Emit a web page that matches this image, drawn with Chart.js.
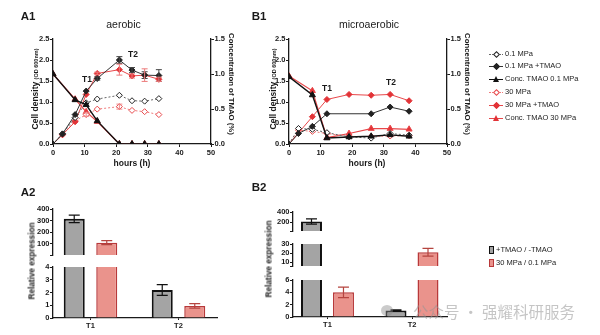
<!DOCTYPE html>
<html>
<head>
<meta charset="utf-8">
<script src="https://cdn.jsdelivr.net/npm/chart.js@4.4.1/dist/chart.umd.min.js"></script>
<style>
  body { margin: 0; background: #fff; }
  #fig { position: relative; width: 600px; height: 335px; overflow: hidden; font-family: "Liberation Sans", Arial, sans-serif; color: #1a1a1a; }
  #fig canvas { position: absolute; }
  .lbl { position: absolute; white-space: nowrap; line-height: 1; }
  .leg { position: absolute; font-size: 7.5px; line-height: 1; white-space: nowrap; color: #222; }
</style>
</head>
<body>
<div id="fig">
  <canvas id="a1" width="240" height="160" style="left:0;top:0"></canvas>
  <canvas id="b1" width="240" height="160" style="left:236px;top:0"></canvas>
  <canvas id="a2top" width="225" height="60" style="left:0;top:200px"></canvas>
  <canvas id="a2bot" width="225" height="77" style="left:0;top:258px"></canvas>
  <canvas id="b2top" width="215" height="33" style="left:236px;top:203px"></canvas>
  <canvas id="b2mid" width="215" height="36" style="left:236px;top:235px"></canvas>
  <canvas id="b2bot" width="215" height="63" style="left:236px;top:271px"></canvas>
</div>
<script>
// ---- A1 aerobic (hours, OD600 and TMAO %) ----
const hoursA = [0, 3, 7, 10.5, 14, 21, 25, 29, 33.5];
const a1Open01 = [0, 0.24, 0.63, 0.98, 1.07, 1.16, 1.03, 1.02, 1.08];
const a1Tmao01 = [0, 0.24, 0.70, 1.26, 1.56, 2.0, 1.76, 1.64, 1.63];
const a1Tmao01Err = [0, 0, 0, 0, 0.04, 0.08, 0.06, 0.08, 0.14];
const a1Conc01 = [1.0, null, 0.63, 0.56, 0.33, 0, 0, 0, 0];
const a1Open30 = [0, 0.22, 0.55, 0.70, 0.83, 0.89, 0.80, 0.77, 0.70];
const a1Open30Err = [0, 0, 0, 0.04, 0, 0.06, 0, 0, 0];
const a1Tmao30 = [0, 0.22, 0.53, 1.18, 1.68, 1.77, 1.62, 1.64, 1.54];
const a1Tmao30Err = [0, 0, 0, 0, 0.03, 0.13, 0.05, 0.15, 0.05];
const a1Conc30 = [1.0, null, 0.64, 0.46, 0.32, 0, 0, 0, 0];

// ---- B1 microaerobic ----
const hoursB = [0, 3, 7.4, 12, 19, 26, 32, 38];
const b1Open01 = [0, 0.37, 0.35, 0.27, 0.17, 0.14, 0.25, 0.21];
const b1Tmao01 = [0, 0.25, 0.42, 0.72, null, 0.72, 0.88, 0.78];
const b1Conc01 = [0.96, null, 0.70, 0.085, 0.10, 0.11, 0.13, 0.11];
const b1Open30 = [0, 0.33, 0.30, 0.25, 0.18, 0.18, 0.19, 0.20];
const b1Tmao30 = [0, null, 0.65, 1.06, 1.18, 1.16, 1.18, 1.03];
const b1Conc30 = [0.97, null, 0.76, 0.09, 0.15, 0.22, 0.22, 0.21];

const hourTicks = [0, 10, 20, 30, 40, 50];
const odTicks = [0, 0.5, 1, 1.5, 2, 2.5];
const concTicks = [0, 0.5, 1, 1.5];

// ---- A2 / B2 relative expression ----
const categories = ['T1', 'T2'];
const a2Tmao = [315, 2.2];
const a2TmaoErr = [32, 0.42];
const a2Press = [110, 0.95];
const a2PressErr = [17, 0.18];
const b2Tmao = [215, 1.05];
const b2TmaoErr = [50, 0.1];
const b2Press = [4.0, 21];
const b2PressErr = [0.85, 4.3];

const a2Breaks = [0, 4, 400];
const a2TopTicks = [100, 200, 300, 400];
const a2BotTicks = [0, 1, 2, 3, 4];
const b2Breaks = [0, 6, 30, 400];
const b2TopTicks = [200, 400];
const b2MidTicks = [10, 20, 30];
const b2BotTicks = [0, 2, 4, 6];

Chart.defaults.font.family = '"Liberation Sans", Arial, sans-serif';
Chart.defaults.font.size = 7.5;
Chart.defaults.font.weight = 'bold';
Chart.defaults.color = '#1a1a1a';
Chart.defaults.animation = false;
Chart.defaults.plugins.legend.display = false;
Chart.defaults.plugins.tooltip.enabled = false;

// vertical error bars, drawn from each dataset's err array
function drawErrors(chart) {
  const {ctx} = chart;
  chart.data.datasets.forEach((ds, i) => {
    if (!ds.err) return;
    const meta = chart.getDatasetMeta(i);
    const ys = chart.scales[meta.yAxisID];
    meta.data.forEach((el, j) => {
      const e = ds.err[j];
      const v = ds.data[j].y;
      if (!e || v == null || v < ys.min || v > ys.max) return;
      const top = ys.getPixelForValue(v + e), bot = ys.getPixelForValue(v - e);
      const w = ds.capWidth || 3;
      ctx.strokeStyle = ds.errColor || '#222';
      ctx.lineWidth = ds.errWidth || 1;
      ctx.beginPath();
      ctx.moveTo(el.x, top); ctx.lineTo(el.x, bot);
      ctx.moveTo(el.x - w, top); ctx.lineTo(el.x + w, top);
      ctx.moveTo(el.x - w, bot); ctx.lineTo(el.x + w, bot);
      ctx.stroke();
    });
  });
}
const errorBars = {
  id: 'errorBars',
  afterDatasetsDraw(chart) { chart.ctx.save(); drawErrors(chart); chart.ctx.restore(); }
};
// broken-axis segments: bars and their error bars stay inside the plot area
const segmentClip = {
  id: 'segmentClip',
  beforeDatasetsDraw(chart) {
    const {ctx, chartArea: a} = chart;
    ctx.save();
    ctx.beginPath();
    ctx.rect(a.left, a.top, a.right - a.left, a.bottom - a.top);
    ctx.clip();
  },
  afterDatasetsDraw(chart) { drawErrors(chart); chart.ctx.restore(); }
};

const fixedTicks = vals => s => { s.ticks = vals.map(v => ({value: v})); };
function axisStyle(extra) {
  return Object.assign({
    grid: {drawOnChartArea: false, color: '#1a1a1a', tickLength: 3, lineWidth: 1},
    border: {color: '#1a1a1a', width: 1.3}
  }, extra);
}

const styles = {
  conc01: {label: 'Conc. TMAO 0.1 MPa', yAxisID: 'y1', borderColor: '#111', backgroundColor: '#111', pointStyle: 'triangle', pointRadius: 3.5, borderWidth: 1.4},
  tmao01: {label: '0.1 MPa +TMAO', borderColor: '#333', backgroundColor: '#222', pointBorderColor: '#222', pointStyle: 'rectRot', pointRadius: 3, borderWidth: 1, errColor: '#444'},
  open01: {label: '0.1 MPa', borderColor: '#666', backgroundColor: '#fff', pointBorderColor: '#222', pointStyle: 'rectRot', pointRadius: 3, borderWidth: 1, borderDash: [2, 2]},
  tmao30: {label: '30 MPa +TMAO', borderColor: '#e8474a', backgroundColor: '#e23337', pointBorderColor: '#e23337', pointStyle: 'rectRot', pointRadius: 3, borderWidth: 1, errColor: '#ec7a7a'},
  open30: {label: '30 MPa', borderColor: '#ef7b7b', backgroundColor: '#fff', pointBorderColor: '#e8484b', pointStyle: 'rectRot', pointRadius: 3, borderWidth: 1, borderDash: [2, 2], errColor: '#ef8a8a'},
  conc30: {label: 'Conc. TMAO 30 MPa', yAxisID: 'y1', borderColor: '#e8474a', backgroundColor: '#e23337', pointStyle: 'triangle', pointRadius: 3.5, borderWidth: 1.2}
};
const legendOrder = ['open01', 'tmao01', 'conc01', 'open30', 'tmao30', 'conc30'];

function lineChart(id, hours, d) {
  const ds = (key, vals, err) => Object.assign({
    data: hours.map((h, i) => ({x: h, y: vals[i]})),
    err: err, spanGaps: true, pointBorderWidth: 1, yAxisID: 'y'
  }, styles[key]);
  return new Chart(document.getElementById(id), {
    type: 'line',
    data: {datasets: [
      ds('conc01', d.conc01), ds('tmao01', d.tmao01, d.tmao01Err), ds('open01', d.open01),
      ds('tmao30', d.tmao30, d.tmao30Err), ds('open30', d.open30, d.open30Err), ds('conc30', d.conc30)
    ]},
    options: {
      responsive: false,
      layout: {autoPadding: false, padding: {top: 39, left: 0, right: 0, bottom: 0}},
      scales: {
        x: axisStyle({type: 'linear', min: 0, max: 50, afterBuildTicks: fixedTicks(hourTicks),
          afterFit: s => { s.height = 16; }, ticks: {padding: 1, maxRotation: 0, autoSkip: false}}),
        y: axisStyle({min: 0, max: 2.5, afterBuildTicks: fixedTicks(odTicks),
          afterFit: s => { s.width = 53; }, ticks: {padding: 0.5, autoSkip: false, callback: v => v.toFixed(1)}}),
        y1: axisStyle({position: 'right', min: 0, max: 1.5, afterBuildTicks: fixedTicks(concTicks),
          afterFit: s => { s.width = 29; }, ticks: {padding: 0.5, autoSkip: false, callback: v => v.toFixed(1)}})
      }
    },
    plugins: [errorBars]
  });
}

lineChart('a1', hoursA, {open01: a1Open01, tmao01: a1Tmao01, tmao01Err: a1Tmao01Err, conc01: a1Conc01,
  open30: a1Open30, open30Err: a1Open30Err, tmao30: a1Tmao30, tmao30Err: a1Tmao30Err, conc30: a1Conc30});
lineChart('b1', hoursB, {open01: b1Open01, tmao01: b1Tmao01, conc01: b1Conc01,
  open30: b1Open30, tmao30: b1Tmao30, conc30: b1Conc30});

const grayBar = {backgroundColor: '#a4a4a4', borderColor: '#111', borderWidth: 2, errColor: '#111', capWidth: 5.5, errWidth: 1.2};
const redBar = {backgroundColor: '#ea938c', borderColor: '#b8393a', borderWidth: 1.5, errColor: '#b5443f', capWidth: 5.5, errWidth: 1.2};

function barSegment(id, lo, hi, tickVals, withX, xr, pct, yW, padR, sets) {
  return new Chart(document.getElementById(id), {
    type: 'bar',
    data: {datasets: sets.map(s => Object.assign({
      data: s.vals.map((v, i) => ({x: i + 1, y: v})), err: s.err, clip: false,
      categoryPercentage: pct[0], barPercentage: pct[1], borderSkipped: 'start'
    }, s.style))},
    options: {
      responsive: false,
      layout: {autoPadding: false, padding: {top: 9, right: padR, left: 0, bottom: 0}},
      scales: {
        x: axisStyle({type: 'linear', display: withX, offset: false, min: xr[0], max: xr[1],
          afterBuildTicks: fixedTicks(categories.map((c, i) => i + 1)),
          afterFit: s => { if (withX) s.height = 17; },
          grid: {drawOnChartArea: false, offset: false, tickLength: 2, color: '#1a1a1a'},
          ticks: {padding: 1, autoSkip: false, callback: v => categories[v - 1] || ''}}),
        y: axisStyle({min: lo, max: hi, beginAtZero: false,
          afterBuildTicks: s => { s.ticks = (lo > 0 ? [lo] : []).concat(tickVals).map(v => ({value: v})); },
          afterFit: s => { s.width = yW; },
          ticks: {padding: 0.5, autoSkip: false, callback: v => tickVals.includes(v) ? v : ''}})
      }
    },
    plugins: [segmentClip]
  });
}

const a2Sets = [{vals: a2Tmao, err: a2TmaoErr, style: grayBar}, {vals: a2Press, err: a2PressErr, style: redBar}];
const b2Sets = [{vals: b2Tmao, err: b2TmaoErr, style: grayBar}, {vals: b2Press, err: b2PressErr, style: redBar}];
const a2X = [0.574, 2.4375], a2Pct = [0.739, 0.646];
const b2X = [0.592, 2.414], b2Pct = [0.757, 0.656];
barSegment('a2top', a2Breaks[1], a2Breaks[2], a2TopTicks, false, a2X, a2Pct, 53, 8, a2Sets);
barSegment('a2bot', a2Breaks[0], a2Breaks[1], a2BotTicks, true, a2X, a2Pct, 53, 8, a2Sets);
barSegment('b2top', b2Breaks[2], b2Breaks[3], b2TopTicks, false, b2X, b2Pct, 57, 4, b2Sets);
barSegment('b2mid', b2Breaks[1], b2Breaks[2], b2MidTicks, false, b2X, b2Pct, 57, 4, b2Sets);
barSegment('b2bot', b2Breaks[0], b2Breaks[1], b2BotTicks, true, b2X, b2Pct, 57, 4, b2Sets);

// ---- text ----
const fig = document.getElementById('fig');
function put(html, x, y, font, rot) {
  const el = document.createElement('div');
  el.className = 'lbl';
  el.innerHTML = html;
  el.style.left = x + 'px';
  el.style.top = y + 'px';
  el.style.font = font;
  el.style.transform = 'translate(-50%, -50%)' + (rot ? ' rotate(' + rot + 'deg)' : '');
  fig.appendChild(el);
  return el;
}
const F = '"Liberation Sans", Arial, sans-serif';
put('A1', 28, 16, 'bold 11.5px ' + F);
put('B1', 259, 16, 'bold 11.5px ' + F);
put('aerobic', 123.5, 24, '10.5px ' + F);
put('microaerobic', 369, 24, '10.5px ' + F);
put('hours (h)', 132, 163, 'bold 8.5px ' + F);
put('hours (h)', 367, 163, 'bold 8.5px ' + F);
const cellTitle = 'Cell density <span style="font-size:5.5px">(OD 600nm)</span>';
put(cellTitle, 35, 89, 'bold 8.5px ' + F, -90);
put(cellTitle, 273, 89, 'bold 8.5px ' + F, -90);
put('Concentration of TMAO (%)', 231, 84, 'bold 7.8px ' + F, 90);
put('Concentration of TMAO (%)', 467, 84, 'bold 7.8px ' + F, 90);
put('T1', 87, 79, 'bold 8.5px ' + F);
put('T2', 133, 54, 'bold 8.5px ' + F);
put('T1', 327, 88, 'bold 8.5px ' + F);
put('T2', 391, 82, 'bold 8.5px ' + F);
put('A2', 28, 192, 'bold 11.5px ' + F);
put('B2', 259, 187, 'bold 11.5px ' + F);
put('Relative expression', 32, 261, 'bold 8.2px ' + F, -90);
put('Relative expression', 269, 259, 'bold 8.2px ' + F, -90);

// line legend built from the dataset styles
const legRows = [54, 66, 79, 92, 105, 118];
legendOrder.forEach((key, i) => {
  const s = styles[key];
  const row = document.createElement('div');
  row.className = 'leg';
  row.style.left = '489px';
  row.style.top = (legRows[i] - 4) + 'px';
  let mark;
  if (s.pointStyle === 'triangle') {
    mark = '<span style="position:absolute;left:3.5px;top:0.5px;width:0;height:0;border-left:3.5px solid transparent;border-right:3.5px solid transparent;border-bottom:6px solid ' + s.backgroundColor + '"></span>';
  } else {
    mark = '<span style="position:absolute;left:4.5px;top:1.8px;width:3px;height:3px;transform:rotate(45deg);border:1px solid ' + s.pointBorderColor + ';background:' + s.backgroundColor + '"></span>';
  }
  row.innerHTML = '<span style="display:inline-block;position:relative;width:14px;height:8px;vertical-align:middle">' +
    '<span style="position:absolute;left:0;width:14px;top:3.5px;border-top:1px ' + (s.borderDash ? 'dotted ' : 'solid ') + s.borderColor + '"></span>' +
    mark + '</span> ' + s.label;
  fig.appendChild(row);
});

// bar legend
[['+TMAO / -TMAO', grayBar, 250], ['30 MPa / 0.1 MPa', redBar, 263]].forEach(([label, st, y]) => {
  const row = document.createElement('div');
  row.className = 'leg';
  row.style.left = '489px';
  row.style.top = (y - 4) + 'px';
  row.innerHTML = '<span style="display:inline-block;width:3px;height:6px;vertical-align:middle;background:' + st.backgroundColor +
    ';border:1.3px solid ' + st.borderColor + '"></span> ' + label;
  fig.appendChild(row);
});

// watermark
const icon = document.createElement('div');
icon.style.cssText = 'position:absolute;left:381px;top:305px;width:12px;height:11px;border-radius:50%;background:rgba(140,140,140,0.45)';
fig.appendChild(icon);
const wm = put('公众号 · 强耀科研服务', 494, 311, '15.5px "Noto Sans CJK SC", sans-serif');
wm.style.color = 'rgba(150,150,150,0.55)';
</script>
</body>
</html>
